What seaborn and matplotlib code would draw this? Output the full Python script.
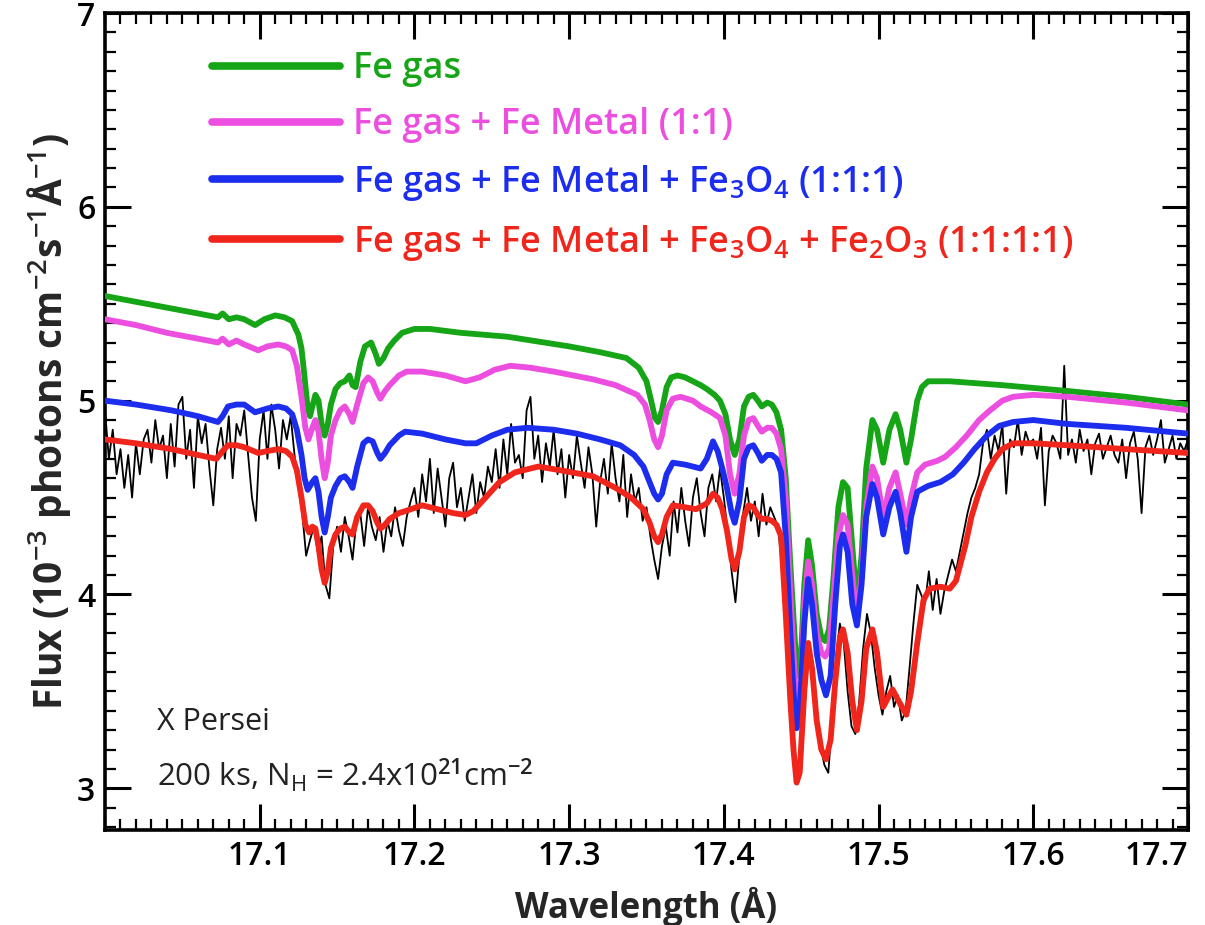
import numpy as np
import pandas as pd
import matplotlib
matplotlib.use("Agg")
import matplotlib.pyplot as plt
from matplotlib.lines import Line2D
from matplotlib.ticker import MultipleLocator
import seaborn as sns

# ---------------- data ----------------
green_wl = [17.000, 17.02, 17.04, 17.06, 17.073, 17.076, 17.08, 17.085, 17.09, 17.097, 17.103, 17.11, 17.116, 17.121,
            17.125, 17.127, 17.129, 17.131, 17.1325, 17.134, 17.136, 17.138, 17.140, 17.142, 17.144, 17.146, 17.149,
            17.152, 17.155, 17.158, 17.160, 17.162, 17.165, 17.168, 17.172, 17.175, 17.177, 17.180, 17.183, 17.187,
            17.192, 17.200, 17.210, 17.230, 17.26, 17.30, 17.32, 17.337, 17.345, 17.350, 17.353, 17.3555, 17.3575,
            17.360, 17.363, 17.366, 17.370, 17.375, 17.380, 17.385, 17.389, 17.394, 17.3975, 17.401, 17.404, 17.407,
            17.410, 17.413, 17.416, 17.419, 17.422, 17.4245, 17.428, 17.431, 17.434, 17.437, 17.440, 17.443, 17.446,
            17.448, 17.450, 17.452, 17.4545, 17.457, 17.460, 17.463, 17.4655, 17.468, 17.471, 17.474, 17.477, 17.480,
            17.483, 17.486, 17.489, 17.492, 17.496, 17.499, 17.503, 17.507, 17.511, 17.514, 17.518, 17.521, 17.525,
            17.528, 17.532, 17.546, 17.58, 17.622, 17.66, 17.70]
green_flux = [5.54, 5.51, 5.48, 5.45, 5.43, 5.45, 5.42, 5.43, 5.42, 5.39, 5.42, 5.44, 5.43, 5.41,
              5.34, 5.27, 5.12, 4.96, 4.92, 4.97, 5.03, 5.00, 4.88, 4.82, 4.88, 4.98, 5.06,
              5.09, 5.10, 5.13, 5.08, 5.07, 5.20, 5.28, 5.30, 5.24, 5.19, 5.22, 5.27, 5.31,
              5.35, 5.37, 5.37, 5.35, 5.33, 5.28, 5.25, 5.22, 5.17, 5.10, 5.00, 4.91, 4.89,
              4.95, 5.07, 5.12, 5.13, 5.12, 5.10, 5.08, 5.06, 5.03, 5.00, 4.93, 4.80, 4.72,
              4.80, 4.97, 5.02, 5.03, 5.00, 4.97, 4.99, 4.98, 4.94, 4.85, 4.60, 4.15, 3.75,
              3.58, 3.70, 4.05, 4.28, 4.15, 3.90, 3.78, 3.76, 3.82, 4.10, 4.45, 4.58, 4.55,
              4.25, 3.95, 4.20, 4.65, 4.90, 4.85, 4.68, 4.85, 4.93, 4.85, 4.68, 4.80, 5.00,
              5.07, 5.10, 5.10, 5.08, 5.05, 5.02, 4.98]

pink_wl = [17.000, 17.02, 17.04, 17.06, 17.073, 17.076, 17.08, 17.085, 17.09, 17.099, 17.105, 17.112, 17.117, 17.121,
           17.124, 17.127, 17.1295, 17.1315, 17.134, 17.136, 17.138, 17.140, 17.142, 17.144, 17.146, 17.149, 17.152,
           17.155, 17.158, 17.160, 17.163, 17.167, 17.170, 17.173, 17.176, 17.178, 17.181, 17.184, 17.190, 17.195,
           17.205, 17.22, 17.233, 17.242, 17.252, 17.262, 17.275, 17.290, 17.3155, 17.330, 17.344, 17.349, 17.352,
           17.355, 17.3575, 17.360, 17.363, 17.367, 17.372, 17.380, 17.385, 17.392, 17.3975, 17.401, 17.404, 17.407,
           17.410, 17.413, 17.416, 17.419, 17.422, 17.4245, 17.428, 17.431, 17.434, 17.437, 17.440, 17.443, 17.446,
           17.448, 17.450, 17.452, 17.4545, 17.457, 17.460, 17.463, 17.4655, 17.468, 17.471, 17.474, 17.477, 17.480,
           17.483, 17.486, 17.489, 17.492, 17.496, 17.499, 17.503, 17.507, 17.511, 17.514, 17.518, 17.521, 17.525,
           17.530, 17.538, 17.543, 17.550, 17.557, 17.565, 17.572, 17.580, 17.587, 17.600, 17.622, 17.66, 17.70]
pink_flux = [5.42, 5.39, 5.35, 5.32, 5.30, 5.32, 5.29, 5.31, 5.29, 5.26, 5.28, 5.29, 5.28, 5.26,
             5.18, 5.02, 4.86, 4.80, 4.86, 4.90, 4.84, 4.70, 4.60, 4.68, 4.82, 4.90, 4.95,
             4.97, 4.93, 4.89, 4.98, 5.09, 5.12, 5.10, 5.04, 5.01, 5.05, 5.08, 5.13, 5.15,
             5.15, 5.13, 5.10, 5.12, 5.16, 5.18, 5.17, 5.15, 5.11, 5.08, 5.03, 4.98, 4.90,
             4.80, 4.76, 4.82, 4.95, 5.01, 5.02, 5.00, 4.97, 4.94, 4.91, 4.82, 4.62, 4.52,
             4.62, 4.82, 4.90, 4.91, 4.87, 4.84, 4.86, 4.86, 4.83, 4.75, 4.50, 4.00, 3.55,
             3.40, 3.55, 3.95, 4.17, 4.05, 3.80, 3.70, 3.68, 3.72, 4.00, 4.30, 4.41, 4.36,
             4.10, 3.86, 4.10, 4.45, 4.66, 4.60, 4.40, 4.55, 4.63, 4.52, 4.36, 4.50, 4.63,
             4.67, 4.69, 4.71, 4.76, 4.82, 4.90, 4.95, 5.00, 5.02, 5.03, 5.02, 4.99, 4.95]

blue_wl = [17.000, 17.02, 17.043, 17.06, 17.073, 17.076, 17.0795, 17.085, 17.09, 17.097, 17.105, 17.112, 17.117,
           17.121, 17.124, 17.127, 17.129, 17.131, 17.134, 17.136, 17.138, 17.140, 17.142, 17.144, 17.146, 17.149,
           17.152, 17.155, 17.158, 17.160, 17.163, 17.167, 17.170, 17.173, 17.176, 17.178, 17.181, 17.184, 17.190,
           17.194, 17.205, 17.22, 17.233, 17.240, 17.250, 17.260, 17.273, 17.290, 17.305, 17.320, 17.333, 17.342,
           17.348, 17.352, 17.355, 17.3575, 17.360, 17.363, 17.367, 17.375, 17.385, 17.389, 17.393, 17.396, 17.399,
           17.402, 17.405, 17.407, 17.410, 17.413, 17.416, 17.419, 17.422, 17.4245, 17.428, 17.431, 17.434, 17.437,
           17.440, 17.443, 17.445, 17.447, 17.449, 17.452, 17.4545, 17.457, 17.460, 17.463, 17.466, 17.469, 17.472,
           17.475, 17.477, 17.480, 17.483, 17.486, 17.489, 17.492, 17.496, 17.499, 17.503, 17.507, 17.511, 17.514,
           17.518, 17.521, 17.525, 17.532, 17.540, 17.548, 17.555, 17.562, 17.570, 17.578, 17.587, 17.600, 17.622,
           17.66, 17.70]
blue_flux = [5.00, 4.98, 4.95, 4.92, 4.89, 4.92, 4.97, 4.98, 4.98, 4.94, 4.96, 4.97, 4.96,
             4.93, 4.85, 4.72, 4.60, 4.54, 4.58, 4.60, 4.53, 4.40, 4.32, 4.40, 4.50, 4.56,
             4.60, 4.61, 4.58, 4.55, 4.66, 4.78, 4.80, 4.79, 4.73, 4.70, 4.73, 4.77, 4.82,
             4.84, 4.83, 4.80, 4.78, 4.78, 4.82, 4.85, 4.86, 4.85, 4.83, 4.80, 4.77, 4.72,
             4.66, 4.58, 4.52, 4.49, 4.52, 4.62, 4.68, 4.67, 4.65, 4.70, 4.79, 4.74, 4.65,
             4.55, 4.42, 4.37, 4.48, 4.70, 4.76, 4.77, 4.73, 4.69, 4.72, 4.72, 4.70, 4.63,
             4.30, 3.80, 3.50, 3.31, 3.40, 3.85, 4.08, 3.95, 3.70, 3.56, 3.48, 3.58, 3.95,
             4.25, 4.31, 4.22, 3.95, 3.84, 4.05, 4.40, 4.57, 4.50, 4.31, 4.45, 4.53, 4.42,
             4.22, 4.40, 4.53, 4.56, 4.58, 4.62, 4.68, 4.75, 4.82, 4.87, 4.89, 4.90, 4.88,
             4.86, 4.83]

red_wl = [17.000, 17.02, 17.043, 17.06, 17.072, 17.076, 17.0795, 17.085, 17.090, 17.099, 17.105, 17.112, 17.117,
          17.121, 17.124, 17.127, 17.1295, 17.132, 17.134, 17.136, 17.138, 17.140, 17.142, 17.144, 17.146, 17.149,
          17.152, 17.155, 17.158, 17.160, 17.163, 17.167, 17.170, 17.173, 17.176, 17.178, 17.181, 17.184, 17.190,
          17.194, 17.205, 17.215, 17.225, 17.233, 17.238, 17.246, 17.255, 17.265, 17.280, 17.295, 17.3155, 17.330,
          17.340, 17.348, 17.352, 17.355, 17.3575, 17.360, 17.363, 17.367, 17.375, 17.382, 17.389, 17.393, 17.396,
          17.399, 17.402, 17.405, 17.407, 17.410, 17.413, 17.416, 17.419, 17.422, 17.4245, 17.428, 17.431, 17.434,
          17.437, 17.440, 17.443, 17.445, 17.447, 17.449, 17.452, 17.4545, 17.457, 17.460, 17.463, 17.466, 17.469,
          17.472, 17.475, 17.477, 17.480, 17.483, 17.486, 17.489, 17.492, 17.496, 17.499, 17.503, 17.507, 17.509,
          17.513, 17.518, 17.521, 17.525, 17.529, 17.533, 17.540, 17.546, 17.550, 17.556, 17.560, 17.565, 17.570,
          17.575, 17.580, 17.587, 17.600, 17.622, 17.66, 17.70]
red_flux = [4.80, 4.78, 4.75, 4.72, 4.70, 4.74, 4.77, 4.77, 4.76, 4.73, 4.74, 4.75, 4.74,
            4.71, 4.64, 4.50, 4.36, 4.32, 4.35, 4.34, 4.25, 4.13, 4.06, 4.12, 4.24, 4.31,
            4.34, 4.35, 4.32, 4.31, 4.40, 4.46, 4.46, 4.43, 4.37, 4.34, 4.36, 4.39, 4.42,
            4.43, 4.46, 4.44, 4.42, 4.41, 4.43, 4.50, 4.58, 4.63, 4.66, 4.64, 4.61, 4.55,
            4.50, 4.44, 4.37, 4.30, 4.27, 4.31, 4.40, 4.46, 4.45, 4.44, 4.47, 4.52, 4.50,
            4.44, 4.33, 4.18, 4.13, 4.22, 4.40, 4.46, 4.45, 4.41, 4.39, 4.39, 4.38, 4.36,
            4.30, 3.90, 3.45, 3.20, 3.03, 3.08, 3.50, 3.75, 3.62, 3.35, 3.20, 3.15, 3.25,
            3.55, 3.78, 3.82, 3.70, 3.45, 3.30, 3.45, 3.72, 3.82, 3.70, 3.42, 3.48, 3.51,
            3.45, 3.38, 3.50, 3.75, 3.97, 4.03, 4.04, 4.03, 4.07, 4.25, 4.40, 4.53, 4.63,
            4.70, 4.75, 4.78, 4.78, 4.77, 4.75, 4.73]

# observed spectrum, sampled every 0.0025 A from 17.000 to 17.700
obs_wl = np.round(np.linspace(17.0, 17.7, 281), 4)
obs_flux = [
    4.95, 4.70, 4.85, 4.62, 4.75, 4.55, 4.72, 4.50, 4.78, 4.62, 4.80, 4.85, 4.68, 4.90, 4.75, 4.82, 4.60, 4.88, 4.66, 4.98,
    5.02, 4.70, 4.85, 4.55, 4.92, 4.78, 4.88, 4.65, 4.46, 4.75, 4.86, 4.70, 4.92, 4.60, 4.88, 4.82, 4.95, 4.72, 4.50, 4.38,
    4.80, 4.95, 4.70, 4.98, 4.85, 4.65, 4.90, 4.80, 4.92, 4.72, 4.55, 4.42, 4.20, 4.28, 4.35, 4.22, 4.30, 4.05, 3.98, 4.25,
    4.35, 4.22, 4.40, 4.30, 4.18, 4.38, 4.42, 4.25, 4.45, 4.35, 4.28, 4.40, 4.22, 4.38, 4.30, 4.45, 4.33, 4.25, 4.40, 4.48,
    4.55, 4.40, 4.62, 4.48, 4.70, 4.42, 4.65, 4.50, 4.35, 4.60, 4.68, 4.45, 4.55, 4.38, 4.50, 4.62, 4.42, 4.58, 4.50, 4.66,
    4.58, 4.75, 4.55, 4.80, 4.62, 4.88, 4.68, 4.72, 4.60, 4.95, 5.02, 4.70, 4.82, 4.58, 4.78, 4.66, 4.85, 4.62, 4.75, 4.50,
    4.72, 4.60, 4.82, 4.68, 4.55, 4.76, 4.62, 4.35, 4.58, 4.70, 4.52, 4.78, 4.60, 4.48, 4.72, 4.40, 4.62, 4.48, 4.55, 4.38,
    4.45, 4.30, 4.18, 4.08, 4.25, 4.35, 4.20, 4.48, 4.32, 4.55, 4.38, 4.25, 4.50, 4.60, 4.42, 4.30, 4.55, 4.62, 4.48, 4.65,
    4.50, 4.32, 4.12, 3.96, 4.20, 4.42, 4.55, 4.38, 4.48, 4.30, 4.52, 4.36, 4.45, 4.40, 4.35, 4.15, 3.80, 3.50, 3.20, 3.02,
    3.10, 3.45, 3.72, 3.65, 3.40, 3.22, 3.12, 3.08, 3.35, 3.68, 3.85, 3.75, 3.50, 3.32, 3.28, 3.45, 3.72, 3.90, 3.80, 3.62,
    3.48, 3.38, 3.50, 3.58, 3.42, 3.48, 3.35, 3.40, 3.62, 3.85, 4.05, 4.00, 3.95, 4.12, 3.92, 4.08, 3.90, 4.02, 4.10, 4.18,
    4.12, 4.22, 4.32, 4.42, 4.50, 4.55, 4.62, 4.78, 4.85, 4.70, 4.82, 4.74, 4.88, 4.52, 4.80, 4.76, 4.90, 4.72, 4.84, 4.78,
    4.80, 4.70, 4.86, 4.46, 4.74, 4.82, 4.78, 4.70, 5.18, 4.72, 4.80, 4.68, 4.85, 4.74, 4.80, 4.62, 4.78, 4.83, 4.70, 4.76,
    4.82, 4.72, 4.68, 4.80, 4.60, 4.78, 4.84, 4.70, 4.42, 4.76, 4.82, 4.72, 4.80, 4.90, 4.68, 4.75, 4.82, 4.70, 4.78, 4.74,
    4.80]

labels = ["Fe gas",
          "Fe gas + Fe Metal (1:1)",
          "Fe gas + Fe Metal + Fe$_3$O$_4$ (1:1:1)",
          "Fe gas + Fe Metal + Fe$_3$O$_4$ + Fe$_2$O$_3$ (1:1:1:1)"]
colors = ["#16a516", "#ec4fe0", "#1c2ded", "#f0261c"]

xticks = [17.1, 17.2, 17.3, 17.4, 17.5, 17.6, 17.7]
yticks = [3, 4, 5, 6, 7]

# ---------------- style ----------------
sns.set_theme(style="ticks")
FONT = "Open Sans"
plt.rcParams["font.family"] = [FONT, "DejaVu Sans"]
plt.rcParams["mathtext.fontset"] = "custom"
plt.rcParams["mathtext.rm"] = "Open Sans:weight=semibold"
plt.rcParams["mathtext.it"] = "Open Sans:weight=semibold"
plt.rcParams["mathtext.bf"] = "Open Sans:weight=bold"

fig = plt.figure(figsize=(12.05, 9.25), dpi=100)
ax = fig.add_axes([105 / 1205, 1 - 830 / 925, (1188 - 105) / 1205, (830 - 13) / 925])

sns.lineplot(x=obs_wl, y=obs_flux, ax=ax, color="black", lw=1.3, estimator=None, zorder=2)
for wl, fl, c in zip([green_wl, pink_wl, blue_wl, red_wl],
                     [green_flux, pink_flux, blue_flux, red_flux], colors):
    sns.lineplot(x=wl, y=fl, ax=ax, color=c, lw=4.2, estimator=None, zorder=3)

ax.set_xlim(17.0, 17.7)
ax.set_ylim(2.785, 7.0)
ax.set_xticks(xticks)
ax.set_xticklabels([f"{t:.1f}" for t in xticks])
ax.set_yticks(yticks)
ax.xaxis.set_minor_locator(MultipleLocator(0.01))
ax.yaxis.set_minor_locator(MultipleLocator(0.1))
ax.tick_params(which="both", direction="in", top=True, right=True, colors="black")
ax.tick_params(which="major", length=19, width=2.2, labelsize=23, pad=7)
ax.tick_params(which="minor", length=8, width=1.6)
for lab in ax.get_xticklabels() + ax.get_yticklabels():
    lab.set_fontweight("semibold")
last = ax.get_xticklabels()[-1]
last.set_horizontalalignment("right")
for s in ax.spines.values():
    s.set_linewidth(2.6)
    s.set_color("black")

ax.set_xlabel("Wavelength (Å)", fontsize=25, fontweight="bold", labelpad=10)
ax.set_ylabel("Flux (10$^{-3}$ photons cm$^{-2}$s$^{-1}$Å$^{-1}$)", fontsize=28, fontweight="bold", labelpad=2)

handles = [Line2D([], [], color=c, lw=5.5) for c in colors]
leg = ax.legend(handles, labels, loc="upper left", bbox_to_anchor=(0.099, 0.953), frameon=False,
                fontsize=26, handlelength=3.55, handletextpad=0.36, labelspacing=0.55, borderpad=0,
                borderaxespad=0)
for t, c in zip(leg.get_texts(), colors):
    t.set_color(c)
    t.set_fontweight("semibold")

ax.text(0.048, 0.132, "X Persei", transform=ax.transAxes, fontsize=22, color="#222222", va="center")
ax.text(0.048, 0.067, "200 ks, N$_\\mathregular{H}$ = 2.4x10$^{21}$cm$^{-2}$", transform=ax.transAxes,
        fontsize=22.5, color="#222222", va="center")

fig.savefig("out.png", dpi=100)
